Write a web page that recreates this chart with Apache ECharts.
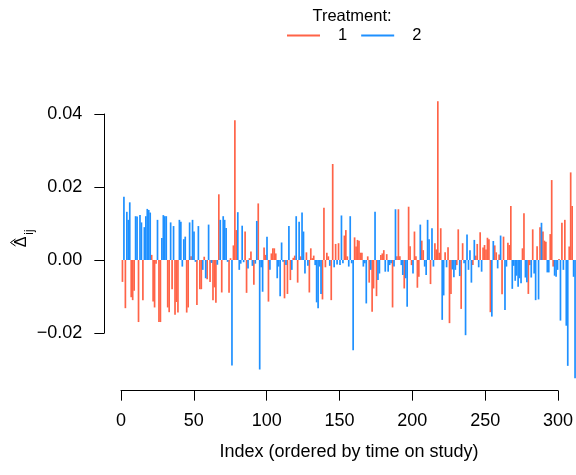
<!DOCTYPE html>
<html>
<head>
<meta charset="utf-8">
<script src="https://cdn.jsdelivr.net/npm/echarts@6/dist/echarts.min.js"></script>
<style>
  html, body { margin: 0; padding: 0; background: #ffffff; }
  #chart { width: 576px; height: 475px; }
</style>
</head>
<body>
<div id="chart"></div>
<script>
// Estimated residual change per subject, ordered by time on study (index 1..311)
const delta = [
  -0.0060,  0.0173, -0.0132,  0.0132,  0.0110,  0.0158, -0.0102, -0.0110, -0.0084,  0.0120,
   0.0119, -0.0170,  0.0123,  0.0103, -0.0110,  0.0090,  0.0120,  0.0140,  0.0137,  0.0130,
   0.0014, -0.0114, -0.0130, -0.0010,  0.0110, -0.0170, -0.0170,  0.0060,  0.0123,  0.0120,
   0.0120, -0.0130, -0.0143,  0.0103, -0.0080,  0.0093, -0.0150, -0.0115, -0.0144,  0.0110,
   0.0105, -0.0018,  0.0057,  0.0064, -0.0144, -0.0130,  0.0103,  0.0010,  0.0110,  0.0078,
  -0.0005, -0.0123,  0.0093, -0.0080, -0.0080, -0.0027,  0.0009, -0.0050, -0.0053,  0.0097,
  -0.0060, -0.0008, -0.0110, -0.0075, -0.0117, -0.0013,  0.0180,  0.0110, -0.0089,  0.0120,
   0.0110,  0.0088, -0.0005, -0.0090,  0.0005, -0.0289,  0.0040,  0.0383,  0.0082,  0.0131,
  -0.0027, -0.0010,  0.0094, -0.0006,  0.0078, -0.0090, -0.0023,  0.0005,  0.0023, -0.0016,
  -0.0068, -0.0010,  0.0107,  0.0155, -0.0300, -0.0020, -0.0087,  0.0034,  0.0014,  0.0064,
  -0.0114, -0.0027,  0.0018,  0.0032,  0.0032,  0.0018, -0.0050, -0.0018, -0.0099,  0.0048,
  -0.0005, -0.0105, -0.0014, -0.0093,  0.0093, -0.0055, -0.0027,  0.0006,  0.0012,  0.0120,
  -0.0062,  0.0105,  0.0010,  0.0130,  0.0078, -0.0037,  0.0021, -0.0016, -0.0089,  0.0032,
   0.0005,  0.0012, -0.0014, -0.0116, -0.0132, -0.0018, -0.0093, -0.0108,  0.0143, -0.0020,
   0.0020,  0.0010, -0.0016, -0.0110,  0.0263, -0.0020,  0.0044, -0.0012,  0.0046, -0.0014,
   0.0122, -0.0009,  0.0067,  0.0082,  0.0010, -0.0018,  0.0120, -0.0009, -0.0247,  0.0062,
   0.0037,  0.0055,  0.0053,  0.0020,  0.0020, -0.0018, -0.0009, -0.0119,  0.0010, -0.0062,
  -0.0027, -0.0142, -0.0078,  0.0132, -0.0099, -0.0055, -0.0037,  0.0014,  0.0018,  0.0027,
  -0.0032,  0.0016, -0.0032, -0.0014, -0.0009, -0.0130, -0.0018,  0.0139,  0.0010,  0.0139,
   0.0010, -0.0014, -0.0041, -0.0078, -0.0050, -0.0128,  0.0146,  0.0038, -0.0014, -0.0037,
   0.0078,  0.0010, -0.0076, -0.0046,  0.0097,  0.0053,  0.0027, -0.0018, -0.0041,  0.0110,
   0.0057, -0.0066,  0.0087, -0.0018,  0.0046,  0.0029,  0.0435,  0.0020,  0.0087, -0.0164,
  -0.0097,  0.0021, -0.0020,  0.0035, -0.0173, -0.0093, -0.0026, -0.0047, -0.0027, -0.0014,
   0.0084, -0.0044, -0.0134,  0.0046, -0.0009, -0.0206,  0.0070, -0.0027,  0.0027, -0.0062,
  -0.0014,  0.0055,  0.0012,  0.0044, -0.0020,  0.0076, -0.0032,  0.0034,  0.0041,  0.0029,
   0.0061,  0.0057, -0.0143, -0.0155,  0.0052,  0.0040,  0.0021, -0.0023,  0.0015,  0.0067,
  -0.0094,  0.0064, -0.0137, -0.0018,  0.0047,  0.0041,  0.0148, -0.0079, -0.0016, -0.0057,
  -0.0043, -0.0073, -0.0050, -0.0064,  0.0032,  0.0128, -0.0048, -0.0061, -0.0093, -0.0014,
  -0.0048,  0.0084, -0.0037, -0.0110,  0.0038, -0.0108,  0.0090,  0.0102,  0.0078,  0.0053,
   0.0050, -0.0034, -0.0034,  0.0071,  0.0219, -0.0018, -0.0043, -0.0046, -0.0027,  0.0003,
  -0.0166,  0.0102, -0.0027,  0.0110, -0.0180, -0.0290,  0.0037,  0.0240,  0.0148, -0.0046,
  -0.0324
];

// Treatment arm of each subject (same order as delta)
const treatment = [
  1,2,1,2,2,2,1,1,1,2,
  2,1,2,2,1,2,2,2,2,2,
  1,1,1,1,2,1,1,2,2,2,
  2,1,1,2,1,2,1,1,1,2,
  2,2,2,2,1,1,2,1,2,2,
  2,1,2,1,1,2,1,2,1,2,
  1,2,1,1,1,2,1,2,1,2,
  2,2,2,1,1,2,1,1,1,2,
  2,2,2,2,1,1,2,1,1,2,
  1,2,2,1,2,2,2,1,1,2,
  1,2,1,1,1,1,2,2,2,2,
  2,1,2,1,2,1,2,1,1,2,
  1,2,1,2,2,2,1,2,1,1,
  1,1,2,2,2,2,2,1,1,1,
  1,1,2,1,1,2,1,2,1,2,
  2,2,1,1,1,2,2,2,2,1,
  1,1,1,1,1,2,2,2,1,1,
  2,1,1,2,1,2,2,1,1,1,
  2,1,2,2,2,1,2,2,1,1,
  1,2,2,1,2,2,1,1,1,2,
  1,1,1,1,2,1,1,2,2,2,
  2,1,2,2,1,1,1,1,1,2,
  2,1,2,1,1,1,2,2,2,1,
  1,2,1,1,2,2,2,2,2,2,
  1,2,1,1,2,1,2,1,1,1,
  1,1,1,2,2,1,1,2,1,2,
  1,1,2,2,1,1,1,2,2,2,
  2,2,2,2,1,1,2,2,1,1,
  2,1,2,2,1,2,1,2,1,1,
  1,2,2,1,1,1,2,2,2,1,
  2,1,2,1,2,2,1,1,1,2,
  2
];

const treatmentNames = ['1', '2'];
const treatmentColors = ['#FF6347', '#1E90FF'];
const xTicks = [0, 50, 100, 150, 200, 250, 300];
const yTicks = [-0.02, 0.00, 0.02, 0.04];

// ---- layout: pixels per data unit and the pixel of the origin ----
const CANVAS_W = 576;
const X_ORIGIN = 121, X_SCALE = 1.46;      // px of index 0, px per index
const Y_ORIGIN = 260, Y_SCALE = 3650;      // px of 0.00, px per unit of delta
const X_MIN = -11.4;                        // left edge of the plotting region
const X_MAX = (CANVAS_W - X_ORIGIN) / X_SCALE; // region runs past the right edge
const Y_RANGE = [-0.0358, 0.0465];

const xpx = v => X_ORIGIN + v * X_SCALE;
const ypx = v => Y_ORIGIN - v * Y_SCALE;

const FONT = 'Liberation Sans, Arial, Helvetica, sans-serif';
const INK = '#000000';

// one custom series per treatment arm; each item is [index, delta]
const seriesData = treatmentNames.map(() => []);
delta.forEach((v, k) => {
  seriesData[treatment[k] - 1].push([k + 1, v]);
});

function renderStem(params, api) {
  const x = api.value(0);
  const tip = api.coord([x, api.value(1)]);
  const base = api.coord([x, 0]);
  return {
    type: 'line',
    shape: { x1: base[0], y1: base[1], x2: tip[0], y2: tip[1] },
    style: { stroke: api.visual('color'), lineWidth: 1.7 }
  };
}

const fmtY = v => (v < 0 ? '\u2212' : '') + Math.abs(v).toFixed(2);

const plotTop = ypx(Y_RANGE[1]);
const plotHeight = (Y_RANGE[1] - Y_RANGE[0]) * Y_SCALE;
const plotLeft = xpx(X_MIN);
const plotWidth = (X_MAX - X_MIN) * X_SCALE;

const option = {
  animation: false,
  backgroundColor: '#ffffff',
  grid: [
    // data region
    { left: plotLeft, width: plotWidth, top: plotTop, height: plotHeight },
    // bottom axis spanning first to last tick
    { left: xpx(xTicks[0]), width: (xTicks[xTicks.length - 1] - xTicks[0]) * X_SCALE,
      top: plotTop, height: plotHeight },
    // left axis spanning first to last tick
    { left: plotLeft, width: plotWidth,
      top: ypx(yTicks[yTicks.length - 1]), height: (yTicks[yTicks.length - 1] - yTicks[0]) * Y_SCALE }
  ],
  xAxis: [
    { gridIndex: 0, type: 'value', min: X_MIN, max: X_MAX, show: false },
    { gridIndex: 1, type: 'value', min: xTicks[0], max: xTicks[xTicks.length - 1], interval: 50,
      position: 'bottom',
      axisLine: { show: true, onZero: false, lineStyle: { color: INK, width: 1 } },
      axisTick: { show: true, inside: false, length: 10, lineStyle: { color: INK, width: 1 } },
      axisLabel: { show: true, margin: 21, color: INK, fontFamily: FONT, fontSize: 18 },
      splitLine: { show: false } },
    { gridIndex: 2, type: 'value', min: X_MIN, max: X_MAX, show: false }
  ],
  yAxis: [
    { gridIndex: 0, type: 'value', min: Y_RANGE[0], max: Y_RANGE[1], show: false },
    { gridIndex: 1, type: 'value', min: Y_RANGE[0], max: Y_RANGE[1], show: false },
    { gridIndex: 2, type: 'value', min: yTicks[0], max: yTicks[yTicks.length - 1], interval: 0.02,
      position: 'left',
      axisLine: { show: true, onZero: false, lineStyle: { color: INK, width: 1 } },
      axisTick: { show: true, inside: false, length: 10, lineStyle: { color: INK, width: 1 } },
      axisLabel: { show: true, margin: 22, color: INK, fontFamily: FONT, fontSize: 18, formatter: fmtY },
      splitLine: { show: false } }
  ],
  legend: {
    data: treatmentNames,
    left: 287, top: 27, padding: 0,
    orient: 'horizontal',
    icon: 'rect', itemWidth: 33, itemHeight: 2, itemGap: 14,
    textStyle: { color: INK, fontFamily: FONT, fontSize: 16.5, padding: [0, 0, 0, 13] },
    selectedMode: false
  },
  series: treatmentNames.map((name, s) => ({
    name: name,
    type: 'custom',
    xAxisIndex: 0, yAxisIndex: 0,
    color: treatmentColors[s],
    renderItem: renderStem,
    encode: { x: 0, y: 1 },
    data: seriesData[s],
    silent: true
  })),
  graphic: [
    { type: 'text', x: 352, y: 16,
      style: { text: 'Treatment:', fill: INK, font: '16.5px ' + FONT,
               textAlign: 'center', textVerticalAlign: 'middle' } },
    { type: 'text', x: 349, y: 452,
      style: { text: 'Index (ordered by time on study)', fill: INK, font: '18px ' + FONT,
               textAlign: 'center', textVerticalAlign: 'middle' } },
    // y-axis title: Delta with subscript ij, read bottom to top, with a hat accent
    { type: 'text', x: 22, y: 242, rotation: Math.PI / 2,
      style: { text: '\u0394', fill: INK, font: '16px ' + FONT, textAlign: 'center', textVerticalAlign: 'middle' } },
    { type: 'text', x: 30, y: 232, rotation: Math.PI / 2,
      style: { text: 'ij', fill: INK, font: '12px ' + FONT, textAlign: 'center', textVerticalAlign: 'middle' } },
    { type: 'polyline',
      shape: { points: [[15.5, 239], [10.5, 242.5], [15.5, 246]] },
      style: { stroke: INK, lineWidth: 1, fill: null } }
  ]
};

const chart = echarts.init(document.getElementById('chart'), null, { renderer: 'canvas' });
chart.setOption(option);
</script>
</body>
</html>
